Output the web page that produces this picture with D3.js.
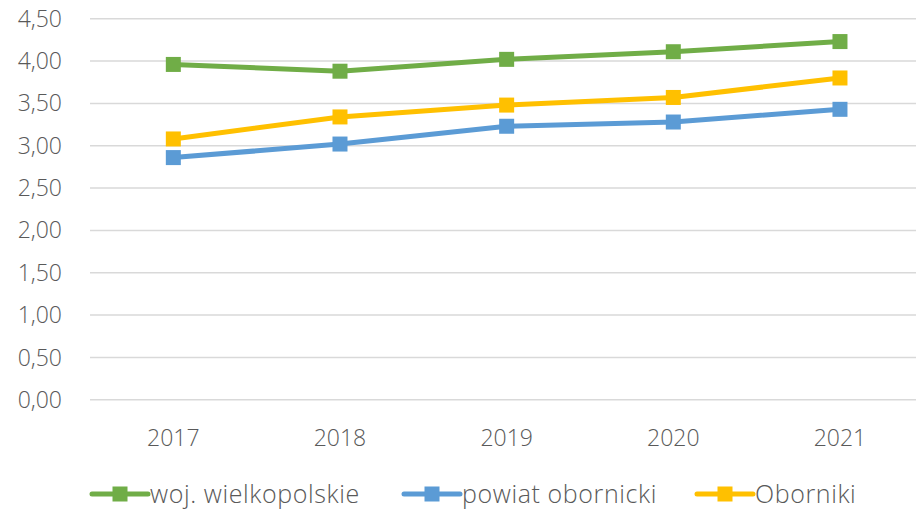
<!DOCTYPE html>
<html>
<head>
<meta charset="utf-8">
<script src="https://cdn.jsdelivr.net/npm/d3@7"></script>
<style>
  body { margin: 0; background: #fff; }
  svg { display: block; font-family: "Open Sans", sans-serif; font-weight: 300; }
</style>
</head>
<body>
<div id="chart"></div>
<script>
const w = 916, h = 511;

// data
const years = ["2017", "2018", "2019", "2020", "2021"];
const seriesNames = ["woj. wielkopolskie", "powiat obornicki", "Oborniki"];
const wielkopolskie = [3.96, 3.88, 4.02, 4.11, 4.23];
const obornicki = [2.86, 3.02, 3.23, 3.28, 3.43];
const oborniki = [3.08, 3.34, 3.48, 3.57, 3.80];
const yTicks = [0, 0.5, 1, 1.5, 2, 2.5, 3, 3.5, 4, 4.5];

const colors = ["#70AD47", "#5B9BD5", "#FFC000"];
const series = [wielkopolskie, obornicki, oborniki].map((v, i) => ({name: seriesNames[i], values: v, color: colors[i]}));

const m = {l: 90, r: -7.3, t: 18.7, b: 111.2};

const svg = d3.select("#chart").append("svg").attr("width", w).attr("height", h);

const x = d3.scaleBand().domain(years).range([m.l, w - m.r]);
const y = d3.scaleLinear().domain([0, 4.5]).range([h - m.b, m.t]);

// gridlines
svg.append("g")
  .selectAll("line")
  .data(yTicks)
  .join("line")
    .attr("x1", m.l)
    .attr("x2", w - m.r)
    .attr("y1", d => y(d))
    .attr("y2", d => y(d))
    .attr("stroke", "#D9D9D9")
    .attr("stroke-width", 1.5)

// y axis labels
svg.append("g")
  .selectAll("text")
  .data(yTicks)
  .join("text")
    .attr("x", 62)
    .attr("y", d => y(d))
    .attr("dy", "0.35em")
    .attr("text-anchor", "end")
    .attr("fill", "#595959")
    .attr("font-size", 23)
    .text(d => d3.format(".2f")(d).replace(".", ","))

// x axis labels
svg.append("g")
  .selectAll("text")
  .data(years)
  .join("text")
    .attr("x", d => x(d) + x.bandwidth() / 2)
    .attr("y", 438)
    .attr("dy", "0.35em")
    .attr("text-anchor", "middle")
    .attr("fill", "#595959")
    .attr("font-size", 23)
    .text(d => d)

const line = d3.line()
  .x((d, i) => x(years[i]) + x.bandwidth() / 2)
  .y(d => y(d));

const sq = 15;
const sg = svg.append("g").selectAll("g").data(series).join("g");

sg.append("path")
  .attr("d", d => line(d.values))
  .attr("fill", "none")
  .attr("stroke", d => d.color)
  .attr("stroke-width", 5)
  .attr("stroke-linejoin", "round")

sg.selectAll("rect")
  .data(d => d.values.map((v, i) => ({v, i, color: d.color})))
  .join("rect")
    .attr("x", d => x(years[d.i]) + x.bandwidth() / 2 - sq / 2)
    .attr("y", d => y(d.v) - sq / 2)
    .attr("width", sq)
    .attr("height", sq)
    .attr("fill", d => d.color)

// legend
const legX = [92, 404, 697];
const legY = 494;
const lg = svg.append("g").selectAll("g").data(series).join("g")
  .attr("transform", (d, i) => `translate(${legX[i]},${legY})`);

lg.append("line")
  .attr("x1", 0).attr("x2", 56)
  .attr("stroke", d => d.color)
  .attr("stroke-width", 5)
  .attr("stroke-linecap", "round")

lg.append("rect")
  .attr("x", 28 - sq / 2).attr("y", -sq / 2)
  .attr("width", sq).attr("height", sq)
  .attr("fill", d => d.color)

lg.append("text")
  .attr("x", 58)
  .attr("dy", "0.35em")
  .attr("fill", "#595959")
  .attr("font-size", 25)
  .attr("letter-spacing", 0.6)
  .text(d => d.name)
</script>
</body>
</html>
